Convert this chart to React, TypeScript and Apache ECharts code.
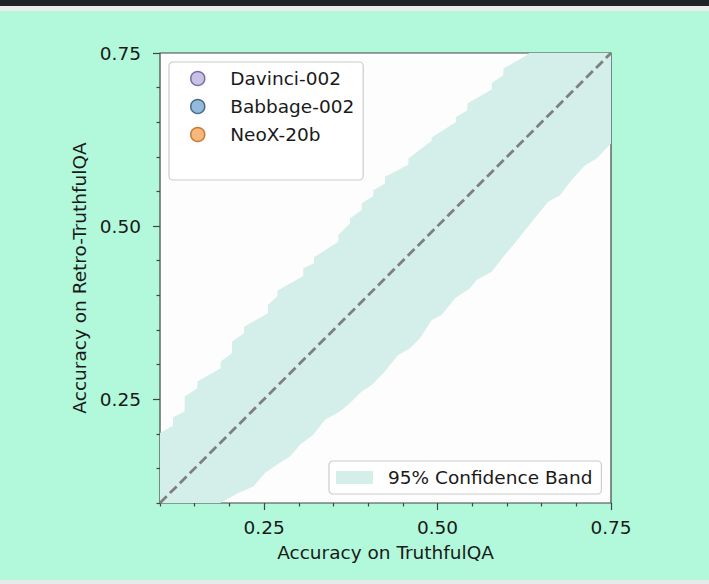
import React, { useEffect, useRef } from "react";
import * as echarts from "echarts";

const xMin = 0.1;
const xMax = 0.75;
const majorTicks = [0.25, 0.5, 0.75];
const minorTicks = [0.1, 0.15, 0.2, 0.3, 0.35, 0.4, 0.45, 0.55, 0.6, 0.65, 0.7];

const modelNames = ["Davinci-002", "Babbage-002", "NeoX-20b"];
const modelFill = ["#bcb2dc", "#78a9d2", "#f8a55b"];
const modelEdge = ["#5e4f99", "#24506f", "#b5650f"];

const bandName = "95% Confidence Band";
const diagonal = [
  [0.1, 0.1],
  [0.75, 0.75],
];

const bandUpper = [
  [0.1, 0.201], [0.1187, 0.2115], [0.1187, 0.224], [0.1356, 0.2321], [0.1356, 0.2538],
  [0.1538, 0.2659], [0.1538, 0.2754], [0.1875, 0.2947], [0.1875, 0.3043], [0.2038, 0.3164],
  [0.2038, 0.3331], [0.2211, 0.3452], [0.2211, 0.3547], [0.2556, 0.3741], [0.2556, 0.386],
  [0.2691, 0.399], [0.2691, 0.4067], [0.3065, 0.4279], [0.3065, 0.439], [0.3219, 0.4462],
  [0.3219, 0.4549], [0.357, 0.4774], [0.357, 0.487], [0.3738, 0.5039], [0.3738, 0.5111],
  [0.3907, 0.5231], [0.3907, 0.5328], [0.4074, 0.5433], [0.4074, 0.5519], [0.4243, 0.5616],
  [0.4243, 0.5711], [0.4579, 0.5885], [0.4579, 0.5977], [0.4916, 0.6231], [0.4916, 0.628],
  [0.5266, 0.6505], [0.5266, 0.6577], [0.5429, 0.6673], [0.5429, 0.677], [0.578, 0.6972],
  [0.578, 0.7067], [0.5948, 0.7178], [0.5948, 0.7275], [0.6285, 0.7467], [0.6322, 0.75],
  [0.75, 0.75],
];

const bandLower = [
  [0.1, 0.1], [0.1865, 0.1], [0.2128, 0.1144], [0.2345, 0.1239], [0.2513, 0.1433],
  [0.2682, 0.1552], [0.2874, 0.1672], [0.3018, 0.1841], [0.3209, 0.1985], [0.3378, 0.2202],
  [0.3594, 0.2321], [0.3738, 0.2443], [0.3907, 0.261], [0.4051, 0.2706], [0.4218, 0.2875],
  [0.4434, 0.3139], [0.4603, 0.3236], [0.4747, 0.338], [0.4916, 0.3644], [0.506, 0.3716],
  [0.5252, 0.3957], [0.5468, 0.4101], [0.5564, 0.4221], [0.578, 0.4341], [0.5948, 0.4557],
  [0.6092, 0.4726], [0.6285, 0.4967], [0.6477, 0.5206], [0.6596, 0.5351], [0.6765, 0.5447],
  [0.6933, 0.5664], [0.7125, 0.588], [0.7294, 0.5977], [0.75, 0.6193],
];

const FONT = "DejaVu Sans";
const FS = 18.5;
const TEXT = "#1a1a1a";
const AXIS = "#444444";
const BAND = "#d4efea";

export default function App() {
  const ref = useRef<HTMLDivElement>(null);
  useEffect(() => {
    if (!ref.current) return;
    const chart = echarts.init(ref.current, undefined, { renderer: "svg" });
    const fmt = (v: number) => Number(v).toFixed(2);
    const baseAxis = (extra: any) => ({
      type: "value",
      min: xMin,
      max: xMax,
      splitLine: { show: false },
      axisLine: { show: false },
      ...extra,
    });
    chart.setOption({
      animation: false,
      backgroundColor: "#b2f9db",
      graphic: [
        { type: "rect", shape: { x: 0, y: 0, width: 709, height: 6 }, style: { fill: "#1f2327" } },
        { type: "rect", shape: { x: 0, y: 6, width: 709, height: 5 }, style: { fill: "#e9eeed" } },
        { type: "rect", shape: { x: 0, y: 580, width: 709, height: 4 }, style: { fill: "#e6ebe9" } },
      ],
      grid: {
        left: 160,
        top: 53,
        width: 451,
        height: 450,
        show: true,
        backgroundColor: "#fdfdfd",
        borderColor: AXIS,
        borderWidth: 1.2,
      },
      xAxis: [
        baseAxis({
          position: "bottom",
          name: "Accuracy on TruthfulQA",
          nameLocation: "middle",
          nameGap: 40,
          nameTextStyle: { fontFamily: FONT, fontSize: FS, color: TEXT },
          axisTick: { show: true, customValues: majorTicks, length: 7, lineStyle: { color: AXIS, width: 1.2 } },
          axisLabel: { customValues: majorTicks, formatter: fmt, fontFamily: FONT, fontSize: FS, color: TEXT, margin: 15 },
        }),
        baseAxis({
          position: "bottom",
          axisTick: { show: true, customValues: minorTicks, length: 3.5, lineStyle: { color: AXIS, width: 1.2 } },
          axisLabel: { show: false },
        }),
      ],
      yAxis: [
        baseAxis({
          position: "left",
          name: "Accuracy on Retro-TruthfulQA",
          nameLocation: "middle",
          nameGap: 68,
          nameTextStyle: { fontFamily: FONT, fontSize: FS, color: TEXT },
          axisTick: { show: true, customValues: majorTicks, length: 7, lineStyle: { color: AXIS, width: 1.2 } },
          axisLabel: { customValues: majorTicks, formatter: fmt, fontFamily: FONT, fontSize: FS, color: TEXT, margin: 19 },
        }),
        baseAxis({
          position: "left",
          axisTick: { show: true, customValues: minorTicks, length: 3.5, lineStyle: { color: AXIS, width: 1.2 } },
          axisLabel: { show: false },
        }),
      ],
      legend: [
        {
          orient: "vertical",
          left: 169,
          top: 62,
          padding: [7, 9, 36, 21],
          itemGap: 9,
          itemWidth: 55,
          itemHeight: 14,
          backgroundColor: "rgba(255,255,255,0.85)",
          borderColor: "#cccccc",
          borderWidth: 1.2,
          borderRadius: 4,
          textStyle: { fontFamily: FONT, fontSize: FS, color: TEXT },
          data: modelNames.map((n, i) => ({
            name: n,
            icon: "circle",
            itemStyle: { color: modelFill[i], borderColor: modelEdge[i], borderWidth: 1.5 },
          })),
        },
        {
          orient: "horizontal",
          left: 329,
          top: 461,
          padding: [7, 9, 7, 7],
          itemWidth: 37,
          itemHeight: 13,
          backgroundColor: "rgba(255,255,255,0.85)",
          borderColor: "#cccccc",
          borderWidth: 1.2,
          borderRadius: 4,
          textStyle: { fontFamily: FONT, fontSize: FS, color: TEXT, padding: [0, 0, 0, 10] },
          data: [{ name: bandName, icon: "rect", itemStyle: { color: BAND, borderWidth: 0 } }],
        },
      ],
      series: [
        {
          type: "custom",
          name: bandName,
          xAxisIndex: 0,
          yAxisIndex: 0,
          itemStyle: { color: BAND },
          data: [[0.4, 0.4]],
          z: 1,
          renderItem: (params: any, api: any) => {
            const pts = bandUpper
              .concat(bandLower.slice().reverse())
              .map((p) => api.coord(p));
            return { type: "polygon", shape: { points: pts }, style: { fill: BAND } };
          },
        },
        {
          type: "line",
          name: "diagonal",
          xAxisIndex: 0,
          yAxisIndex: 0,
          data: diagonal,
          showSymbol: false,
          z: 3,
          lineStyle: { color: "#7f7f7f", width: 2.8, type: [9.5, 4.5] },
        },
        ...modelNames.map((n, i) => ({
          type: "scatter",
          name: n,
          xAxisIndex: 0,
          yAxisIndex: 0,
          data: [],
          itemStyle: { color: modelFill[i], borderColor: modelEdge[i], borderWidth: 1.5 },
        })),
      ],
    });
    return () => chart.dispose();
  }, []);
  return (
    <div
      ref={ref}
      style={{ position: "fixed", left: 0, top: 0, width: 709, height: 584 }}
    />
  );
}
